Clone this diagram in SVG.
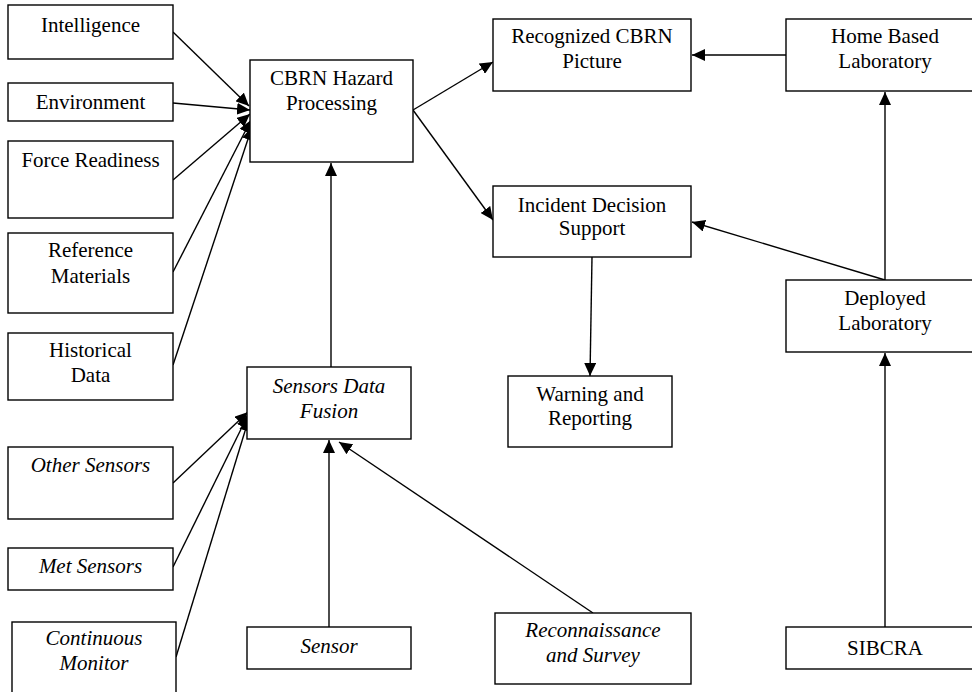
<svg xmlns="http://www.w3.org/2000/svg" width="972" height="692" viewBox="0 0 972 692">
<style>
.box{fill:#fff;stroke:#000;stroke-width:1.4}
text{font-family:"Liberation Serif","Times New Roman",serif;font-size:21px;fill:#000;text-anchor:middle}
.it{font-style:italic}
.c line{stroke:#000;stroke-width:1.4;marker-end:url(#ah)}
</style>
<defs>
<marker id="ah" markerUnits="userSpaceOnUse" markerWidth="14" markerHeight="12" refX="13" refY="6" orient="auto">
<path d="M0,0 L13,6 L0,12 z" fill="#000"/>
</marker>
</defs>
<rect width="972" height="692" fill="#fff"/>
<g class="c" id="connectors">
<line x1="173" y1="32" x2="249" y2="106"/>
<line x1="173" y1="103" x2="250" y2="110"/>
<line x1="173" y1="180" x2="250" y2="114"/>
<line x1="173" y1="272" x2="251" y2="120"/>
<line x1="173" y1="365" x2="252" y2="127"/>
<line x1="173" y1="483" x2="248" y2="412"/>
<line x1="173" y1="567" x2="248" y2="415"/>
<line x1="176" y1="657" x2="249" y2="418"/>
<line x1="331" y1="367" x2="331" y2="163"/>
<line x1="329" y1="627" x2="329" y2="440"/>
<line x1="593" y1="613" x2="339" y2="442"/>
<line x1="413" y1="110" x2="493" y2="62"/>
<line x1="413" y1="110" x2="493" y2="220"/>
<line x1="592" y1="257" x2="590" y2="376"/>
<line x1="786" y1="55" x2="692" y2="55"/>
<line x1="885" y1="280" x2="885" y2="92"/>
<line x1="885" y1="280" x2="692" y2="222"/>
<line x1="885" y1="627" x2="885" y2="353"/>
</g>
<g id="intelligence"><rect class="box" x="8" y="5" width="165" height="54"/><text x="90.5" y="32">Intelligence</text></g>
<g id="environment"><rect class="box" x="8" y="83" width="165" height="38"/><text x="90.5" y="109">Environment</text></g>
<g id="force-readiness"><rect class="box" x="8" y="141" width="165" height="77"/><text x="90.5" y="167">Force Readiness</text></g>
<g id="reference-materials"><rect class="box" x="8" y="233" width="165" height="80"/><text x="90.5" y="257">Reference</text><text x="90.5" y="283">Materials</text></g>
<g id="historical-data"><rect class="box" x="8" y="333" width="165" height="67"/><text x="90.5" y="357">Historical</text><text x="90.5" y="382">Data</text></g>
<g id="other-sensors"><rect class="box" x="8" y="447" width="165" height="72"/><text class="it" x="90.5" y="472">Other Sensors</text></g>
<g id="met-sensors"><rect class="box" x="8" y="548" width="165" height="42"/><text class="it" x="90.5" y="573">Met Sensors</text></g>
<g id="continuous-monitor"><rect class="box" x="12" y="622" width="164" height="80"/><text class="it" x="94" y="645">Continuous</text><text class="it" x="94" y="670">Monitor</text></g>
<g id="cbrn-hazard"><rect class="box" x="250" y="60" width="163" height="102"/><text x="331.5" y="85">CBRN Hazard</text><text x="331.5" y="110">Processing</text></g>
<g id="sensors-data-fusion"><rect class="box" x="247" y="367" width="164" height="72"/><text class="it" x="329" y="393">Sensors Data</text><text class="it" x="329" y="418">Fusion</text></g>
<g id="sensor"><rect class="box" x="247" y="627" width="164" height="42"/><text class="it" x="329" y="653">Sensor</text></g>
<g id="reconnaissance"><rect class="box" x="495" y="613" width="196" height="71"/><text class="it" x="593" y="637">Reconnaissance</text><text class="it" x="593" y="662">and Survey</text></g>
<g id="recognized-cbrn"><rect class="box" x="493" y="19" width="198" height="72"/><text x="592" y="43">Recognized CBRN</text><text x="592" y="68">Picture</text></g>
<g id="incident-decision"><rect class="box" x="493" y="186" width="198" height="71"/><text x="592" y="212">Incident Decision</text><text x="592" y="235">Support</text></g>
<g id="warning-reporting"><rect class="box" x="508" y="376" width="164" height="71"/><text x="590" y="401">Warning and</text><text x="590" y="425">Reporting</text></g>
<g id="home-lab"><rect class="box" x="786" y="19" width="199" height="72"/><text x="885" y="43">Home Based</text><text x="885" y="68">Laboratory</text></g>
<g id="deployed-lab"><rect class="box" x="786" y="280" width="199" height="72"/><text x="885" y="305">Deployed</text><text x="885" y="330">Laboratory</text></g>
<g id="sibcra"><rect class="box" x="786" y="627" width="199" height="42"/><text x="885" y="655">SIBCRA</text></g>
</svg>
